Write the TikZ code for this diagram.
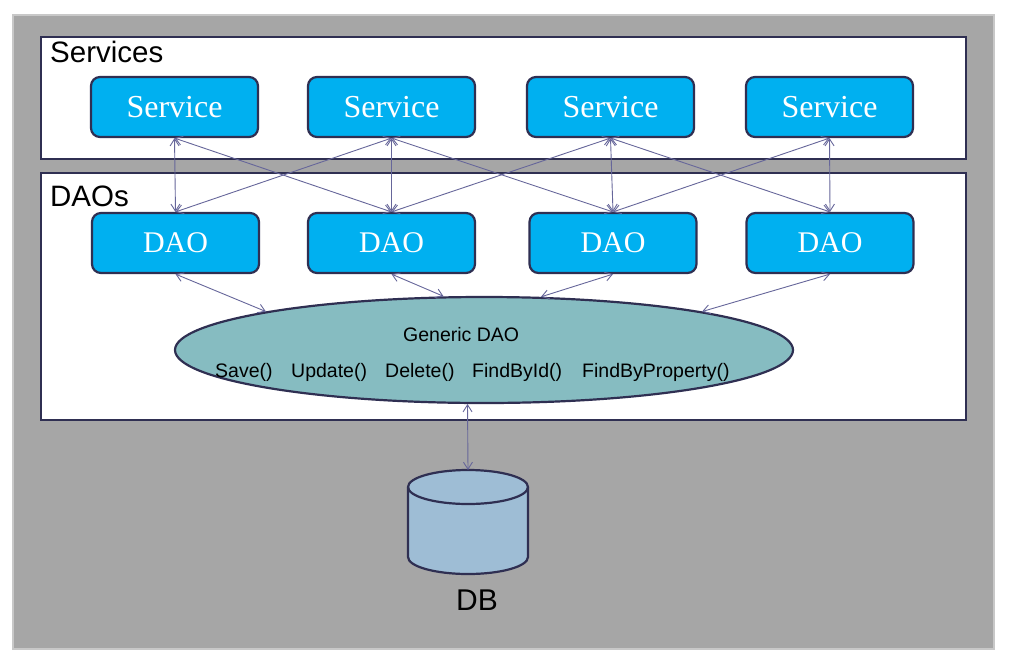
\documentclass[tikz,border=0pt]{standalone}
\usepackage{fontspec}
\setmainfont{Liberation Serif}
\setsansfont{Liberation Sans}
\usetikzlibrary{arrows.meta,shapes.geometric}
\definecolor{navy}{HTML}{2F2F52}
\definecolor{bgray}{HTML}{A6A6A6}
\definecolor{lgray}{HTML}{C8C8C8}
\definecolor{cyanbox}{HTML}{00B0F0}
\definecolor{teal}{HTML}{86BCC1}
\definecolor{dbfill}{HTML}{9EBDD5}
\definecolor{conn}{HTML}{66669A}
\tikzset{
  panel/.style={draw=navy, fill=white, line width=2.8pt},
  comp/.style={draw=navy, fill=cyanbox, line width=2.2pt, rounded corners=9pt,
    minimum width=167pt, minimum height=60pt, inner sep=0pt, text=white},
  svc/.style={comp, font=\fontsize{32}{36}\selectfont},
  dao/.style={comp, font=\fontsize{30}{34}\selectfont},
  title/.style={anchor=base west, inner sep=0pt, font=\sffamily\fontsize{29.5}{33}\selectfont},
  meth/.style={anchor=base west, inner sep=0pt, font=\sffamily\fontsize{19.5}{22}\selectfont},
  link/.style={draw=conn, line width=0.9pt, {Straight Barb[length=7pt,width=9pt]}-{Straight Barb[length=7pt,width=9pt]}}
}
\begin{document}
\begin{tikzpicture}[x=1pt,y=-1pt]
\useasboundingbox (0,0) rectangle (1011,664);
\fill[white] (0,0) rectangle (1011,664);
\draw[lgray, fill=bgray, line width=2pt] (13,15) rectangle (994,649);
\draw[panel] (41,37) rectangle (966,159);
\draw[panel] (41,173) rectangle (966,420);
\node[title] (tsvc) at (50,62) {Services};
\node[title] (tdao) at (50,206) {DAOs};
\node[svc] (s1) at (174.5,107) {Service};
\node[svc] (s2) at (391.5,107) {Service};
\node[svc] (s3) at (610.5,107) {Service};
\node[svc] (s4) at (829.5,107) {Service};
\node[dao] (d1) at (175.5,243) {DAO};
\node[dao] (d2) at (391.5,243) {DAO};
\node[dao] (d3) at (613,243) {DAO};
\node[dao] (d4) at (830,243) {DAO};
\node[ellipse, draw=navy, fill=teal, line width=2.2pt, minimum width=618pt, minimum height=106pt, inner sep=0pt] (gd) at (484,350) {};
\node[meth] (gname) at (403,341) {Generic DAO};
\node[meth] (m1) at (215,377) {Save()};
\node[meth] (m2) at (291,377) {Update()};
\node[meth] (m3) at (385,377) {Delete()};
\node[meth] (m4) at (472,377) {FindById()};
\node[meth] (m5) at (582,377) {FindByProperty()};
% DB cylinder
\draw[navy, fill=dbfill, line width=2.2pt] (408,487) -- (408,557) arc[start angle=180, end angle=360, x radius=60, y radius=-17] -- (528,487) arc[start angle=0, end angle=180, x radius=60, y radius=-17] -- cycle;
\draw[navy, line width=2.2pt] (408,487) arc[start angle=180, end angle=360, x radius=60, y radius=-17];
\coordinate (dbtop) at (468,470);
\node[anchor=base, inner sep=0pt, font=\sffamily\fontsize{30}{34}\selectfont] (dbl) at (477,610) {DB};
% connectors
\draw[link] (s1.south) -- (d1.north);
\draw[link] (s1.south) -- (d2.north);
\draw[link] (s2.south) -- (d1.north);
\draw[link] (s2.south) -- (d2.north);
\draw[link] (s2.south) -- (d3.north);
\draw[link] (s3.south) -- (d2.north);
\draw[link] (s3.south) -- (d3.north);
\draw[link] (s3.south) -- (d4.north);
\draw[link] (s4.south) -- (d3.north);
\draw[link] (s4.south) -- (d4.north);
\draw[link] (d1.south) -- (gd.170);
\draw[link] (d2.south) -- (gd.127);
\draw[link] (d3.south) -- (gd.43);
\draw[link] (d4.south) -- (gd.10);
\draw[link] (gd.253) -- (dbtop);
\end{tikzpicture}
\end{document}
